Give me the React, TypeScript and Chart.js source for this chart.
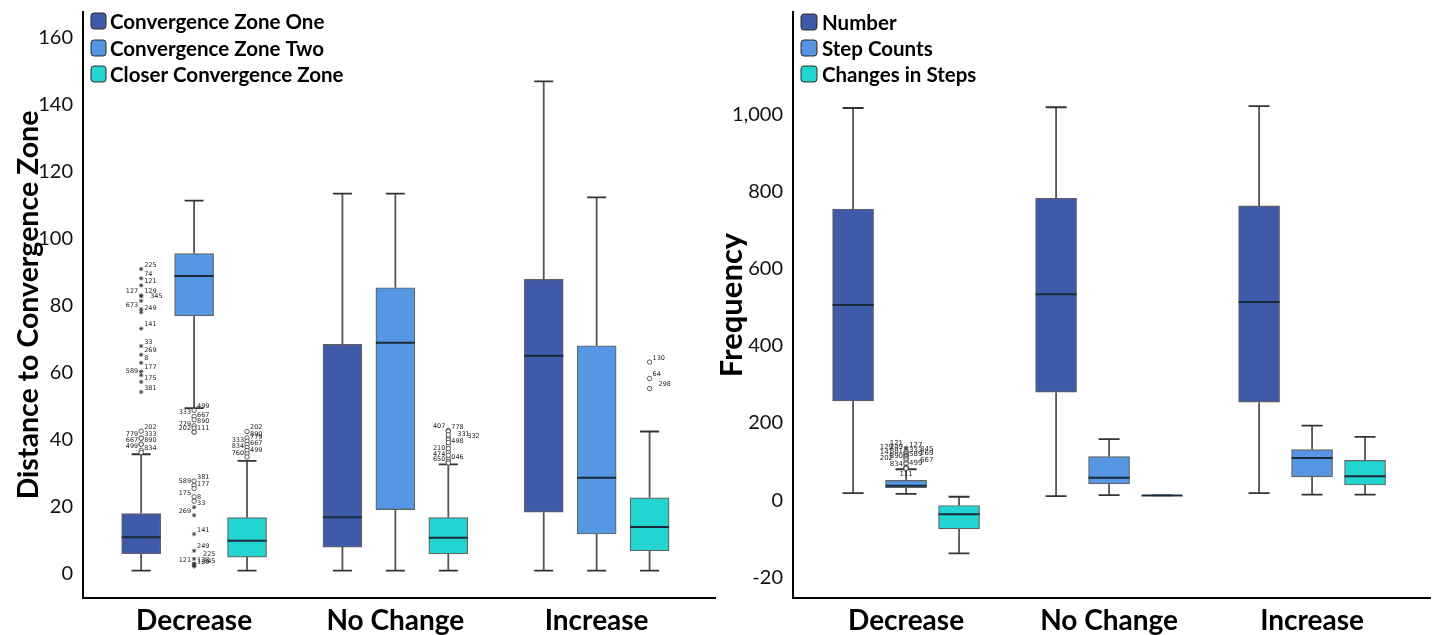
import React, { useEffect, useRef } from "react";
import { Chart, registerables } from "chart.js";

Chart.register(...registerables);

// ---------------- data ----------------
const categories = ["Decrease", "No Change", "Increase"];

const leftSeriesNames = ["Convergence Zone One", "Convergence Zone Two", "Closer Convergence Zone"];
const rightSeriesNames = ["Number", "Step Counts", "Changes in Steps"];
const seriesColors = ["#3F5AA9", "#5597E3", "#22D5D0"];

const leftTicks = [0, 20, 40, 60, 80, 100, 120, 140, 160];
const rightTicks = [-20, 0, 200, 400, 600, 800, 1000];

// box stats per category: [min, q1, median, q3, max]
const zoneOneBoxes = [
  [1.0, 6.0, 10.9, 18.0, 35.7],
  [1.0, 8.0, 16.9, 68.5, 113.5],
  [1.0, 18.4, 65.1, 87.9, 147.0],
];
const zoneTwoBoxes = [
  [49.5, 77.0, 88.9, 95.6, 111.4],
  [1.0, 19.2, 69.0, 85.4, 113.5],
  [1.0, 11.9, 28.7, 68.1, 112.4],
];
const closerBoxes = [
  [1.0, 5.0, 9.9, 16.8, 33.7],
  [1.0, 6.0, 10.8, 16.8, 32.7],
  [1.0, 6.9, 14.0, 22.7, 42.5],
];

// outliers per category: [value, case id, marker ('o' = outlier, '*' = extreme)]
const zoneOneOutliers = [
  [
    [42.6, "202", "o"], [40.5, "779", "o"], [40.5, "333", "o"], [38.7, "667", "o"], [38.7, "890", "o"], [36.9, "499", "o"], [36.2, "834", "o"],
    [91.0, "225", "*"], [88.2, "74", "*"], [86.1, "121", "*"], [83.0, "127", "*"], [83.0, "129", "*"], [81.5, "345", "*"], [79.0, "673", "*"],
    [78.1, "249", "*"], [73.2, "141", "*"], [68.0, "33", "*"], [65.4, "269", "*"], [63.0, "8", "*"], [60.4, "177", "*"], [59.3, "589", "*"],
    [57.3, "175", "*"], [54.3, "381", "*"],
  ],
  [],
  [],
];
const zoneTwoOutliers = [
  [
    [48.8, "499", "o"], [47.0, "333", "o"], [46.0, "667", "o"], [44.2, "890", "o"], [43.5, "779", "o"], [42.3, "202", "o"], [42.3, "111", "o"],
    [27.7, "381", "o"], [26.4, "589", "o"], [25.5, "177", "o"], [23.0, "175", "o"], [21.7, "8", "o"],
    [19.9, "33", "*"], [17.5, "269", "*"], [11.9, "141", "*"], [6.9, "249", "*"], [4.5, "225", "*"], [3.0, "121", "*"], [3.0, "127", "*"],
    [2.6, "345", "*"], [2.2, "129", "*"],
  ],
  [],
  [],
];
const closerOutliers = [
  [
    [42.5, "202", "o"], [40.6, "890", "o"], [39.6, "779", "o"], [38.6, "333", "o"], [37.7, "667", "o"], [36.8, "834", "o"], [35.8, "499", "o"], [34.9, "760", "o"],
  ],
  [
    [42.8, "407", "o"], [42.5, "778", "o"], [40.6, "331", "o"], [40.0, "332", "o"], [38.4, "498", "o"], [36.4, "210", "o"], [34.4, "474", "o"],
    [33.6, "046", "o"], [33.1, "650", "o"], [41.5, "", "o"], [39.2, "", "o"], [37.4, "", "o"], [35.4, "", "o"],
  ],
  [[63.2, "130", "o"], [58.3, "64", "o"], [55.3, "298", "o"]],
];

const numberBoxes = [
  [18, 257, 506, 755, 1017],
  [10, 280, 534, 783, 1019],
  [18, 254, 514, 763, 1022],
];
const stepBoxes = [
  [16, 32, 37, 51, 80],
  [13, 42, 58, 113, 158],
  [14, 60, 109, 131, 193],
];
const changeBoxes = [
  [-13.8, -7.5, -3.7, -1.4, 8.6],
  [12, 12, 12, 12, 12],
  [14, 39, 62, 103, 164],
];
const numberOutliers = [[], [], []];
const stepOutliers = [
  [
    [136, "121", "*"], [132, "127", "*"], [128, "249", "*"], [126, "129", "o"], [122, "345", "o"], [120, "333", "o"], [116, "381", "o"],
    [114, "141", "o"], [112, "269", "o"], [108, "589", "o"], [104, "890", "o"], [98, "202", "o"], [94, "667", "o"], [86, "499", "o"],
    [84, "834", "o"], [82, "111", "o"],
  ],
  [],
  [],
];
const changeOutliers = [[], [], []];

// label placement hints (layout only), one letter per outlier
const zoneOneLabelSides = ["rlrlrlrrrrlrRlrrrrrrlrr", "", ""];
const zoneTwoLabelSides = ["rlrrllrrlrlrrlrrRlrRr", "", ""];
const closerLabelSides = ["rrrlrlrl", "lrRXrllrl----", "rrR"];
const stepLabelSides = ["lrlLWrlLWrlLWrlc", "", ""];
const emptySides = ["", "", ""];

// ---------------- rendering ----------------
const FONT = "Lato, 'Open Sans', 'DejaVu Sans', sans-serif";
const sideOffsets: Record<string, number> = { l: -3, L: -13, r: 3, R: 9, W: 14, X: 19, c: 0 };

type Panel = {
  names: string[];
  boxes: number[][][];
  outliers: any[][][];
  sides: string[][];
  f: (v: number) => number;
  inv: (u: number) => number;
  yTicks: number[];
  yMin: number;
  yMax: number;
  xMin: number;
  xMax: number;
  groupOffset: number;
  barWidth: number;
  capWidth: number;
  yAxisWidth: number;
  padRight: number;
  title: string;
  titleSize: number;
  titlePad: number;
  legendX: number;
  legendSize: number;
  textX: number;
  legendRows: number[];
  legendFont: number;
  labelFont: number;
  yLabel: (v: number) => string;
};

const leftPanel: Panel = {
  names: leftSeriesNames,
  boxes: [zoneOneBoxes, zoneTwoBoxes, closerBoxes],
  outliers: [zoneOneOutliers, zoneTwoOutliers, closerOutliers],
  sides: [zoneOneLabelSides, zoneTwoLabelSides, closerLabelSides],
  f: (v) => v,
  inv: (u) => u,
  yTicks: leftTicks,
  yMin: -7.2,
  yMax: 167.7,
  xMin: -0.552,
  xMax: 2.589,
  groupOffset: 0.263,
  barWidth: 39,
  capWidth: 19,
  yAxisWidth: 83,
  padRight: 0,
  title: "Distance to Convergence Zone",
  titleSize: 28.5,
  titlePad: 15,
  legendX: 91,
  legendSize: 15,
  textX: 110,
  legendRows: [21, 48, 74],
  legendFont: 20.5,
  labelFont: 6.5,
  yLabel: (v) => String(Math.round(v)),
};

const rightF = (v: number) => (v >= 0 ? v / 200 : v / 20);
const rightInv = (u: number) => (u >= 0 ? u * 200 : u * 20);

const rightPanel: Panel = {
  names: rightSeriesNames,
  boxes: [numberBoxes, stepBoxes, changeBoxes],
  outliers: [numberOutliers, stepOutliers, changeOutliers],
  sides: [emptySides, stepLabelSides, emptySides],
  f: rightF,
  inv: rightInv,
  yTicks: rightTicks,
  yMin: -1.27,
  yMax: 6.33,
  xMin: -0.557,
  xMax: 2.581,
  groupOffset: 0.261,
  barWidth: 41,
  capWidth: 21,
  yAxisWidth: 73,
  padRight: 7,
  title: "Frequency",
  titleSize: 31,
  titlePad: -4,
  legendX: 81,
  legendSize: 16,
  textX: 102,
  legendRows: [22, 48, 74],
  legendFont: 20.5,
  labelFont: 7,
  yLabel: (v) => Math.round(v).toLocaleString("en-US"),
};

function makeChart(canvas: HTMLCanvasElement, p: Panel) {
  const datasets: any[] = [];
  p.boxes.forEach((boxes, k) => {
    const off = (k - 1) * p.groupOffset;
    datasets.push({
      type: "bar",
      label: p.names[k],
      data: boxes.map((b, i) => ({ x: i + off, y: [p.f(b[1]), p.f(b[3])] })),
      backgroundColor: seriesColors[k],
      borderColor: "rgba(70,70,70,0.85)",
      borderWidth: 1.2,
      borderSkipped: false,
      grouped: false,
      barPercentage: 1,
      categoryPercentage: 1,
      maxBarThickness: p.barWidth,
    });
  });
  p.outliers.forEach((cats, k) => {
    const off = (k - 1) * p.groupOffset;
    const pts: any[] = [];
    cats.forEach((list, i) =>
      list.forEach((o: any, j: number) =>
        pts.push({ x: i + off, y: p.f(o[0]), id: o[1], m: o[2], side: (p.sides[k][i] || "")[j] || "r" })
      )
    );
    datasets.push({
      type: "scatter",
      label: p.names[k] + " outliers",
      data: pts,
      pointStyle: (ctx: any) => (ctx.raw && ctx.raw.m === "*" ? "star" : "circle"),
      pointRadius: 2.2,
      pointBackgroundColor: "#ffffff",
      pointBorderColor: "#333333",
      pointBorderWidth: 0.8,
    });
  });

  const decor = {
    id: "boxDecor",
    beforeDatasetsDraw(chart: any) {
      const ctx = chart.ctx;
      const ys = chart.scales.y;
      ctx.save();
      p.boxes.forEach((boxes, k) => {
        const meta = chart.getDatasetMeta(k);
        boxes.forEach((b, i) => {
          const el = meta.data[i];
          if (!el) return;
          const x = el.x;
          const [mn, q1, , q3, mx] = b.map(p.f);
          ctx.strokeStyle = "#555555";
          ctx.lineWidth = 1.8;
          ctx.beginPath();
          ctx.moveTo(x, ys.getPixelForValue(q3));
          ctx.lineTo(x, ys.getPixelForValue(mx));
          ctx.moveTo(x, ys.getPixelForValue(q1));
          ctx.lineTo(x, ys.getPixelForValue(mn));
          ctx.stroke();
          ctx.strokeStyle = "#333333";
          ctx.lineWidth = 1.8;
          ctx.beginPath();
          [mx, mn].forEach((v) => {
            const y = ys.getPixelForValue(v);
            ctx.moveTo(x - p.capWidth / 2, y);
            ctx.lineTo(x + p.capWidth / 2, y);
          });
          ctx.stroke();
        });
      });
      ctx.restore();
    },
    afterDatasetsDraw(chart: any) {
      const ctx = chart.ctx;
      const ys = chart.scales.y;
      ctx.save();
      // medians
      p.boxes.forEach((boxes, k) => {
        const meta = chart.getDatasetMeta(k);
        boxes.forEach((b, i) => {
          const el = meta.data[i];
          if (!el) return;
          const y = ys.getPixelForValue(p.f(b[2]));
          ctx.strokeStyle = "#1b2a3a";
          ctx.lineWidth = 2;
          ctx.beginPath();
          ctx.moveTo(el.x - el.width / 2, y);
          ctx.lineTo(el.x + el.width / 2, y);
          ctx.stroke();
        });
      });
      // outlier labels
      ctx.font = `${p.labelFont}px 'DejaVu Sans', sans-serif`;
      ctx.fillStyle = "#222222";
      ctx.textBaseline = "middle";
      p.outliers.forEach((_, k) => {
        const di = p.boxes.length + k;
        const meta = chart.getDatasetMeta(di);
        const data = chart.data.datasets[di].data;
        data.forEach((d: any, j: number) => {
          const el = meta.data[j];
          if (!el || !d.id) return;
          const s = d.side;
          const off = sideOffsets[s] ?? 3;
          if (s === "c") {
            ctx.textAlign = "center";
            ctx.fillText(d.id, el.x, el.y + 6);
          } else {
            ctx.textAlign = off < 0 ? "right" : "left";
            ctx.fillText(d.id, el.x + off, el.y - 4);
          }
        });
      });
      ctx.restore();
    },
    afterDraw(chart: any) {
      const ctx = chart.ctx;
      ctx.save();
      p.names.forEach((name, k) => {
        const cy = p.legendRows[k];
        const s = p.legendSize;
        const x = p.legendX;
        const y = cy - 8;
        const h = 16;
        const r = 3;
        ctx.beginPath();
        ctx.moveTo(x + r, y);
        ctx.lineTo(x + s - r, y);
        ctx.quadraticCurveTo(x + s, y, x + s, y + r);
        ctx.lineTo(x + s, y + h - r);
        ctx.quadraticCurveTo(x + s, y + h, x + s - r, y + h);
        ctx.lineTo(x + r, y + h);
        ctx.quadraticCurveTo(x, y + h, x, y + h - r);
        ctx.lineTo(x, y + r);
        ctx.quadraticCurveTo(x, y, x + r, y);
        ctx.closePath();
        ctx.fillStyle = seriesColors[k];
        ctx.fill();
        ctx.strokeStyle = "#2a2a2a";
        ctx.lineWidth = 1;
        ctx.stroke();
        ctx.fillStyle = "#000000";
        ctx.font = `bold ${p.legendFont}px ${FONT}`;
        ctx.textAlign = "left";
        ctx.textBaseline = "middle";
        ctx.fillText(name, p.textX, cy + 1);
      });
      ctx.restore();
    },
  };

  return new Chart(canvas, {
    type: "bar",
    data: { datasets },
    plugins: [decor],
    options: {
      responsive: false,
      animation: false,
      devicePixelRatio: 1,
      layout: { padding: { top: 12, right: p.padRight, left: 0, bottom: 0 } },
      plugins: { legend: { display: false }, tooltip: { enabled: false } },
      scales: {
        x: {
          type: "linear",
          offset: false,
          min: p.xMin,
          max: p.xMax,
          afterBuildTicks: (s: any) => {
            s.ticks = categories.map((_, i) => ({ value: i }));
          },
          afterFit: (s: any) => {
            s.height = 37;
            s.paddingLeft = 0;
            s.paddingRight = 0;
          },
          ticks: {
            autoSkip: false,
            maxRotation: 0,
            padding: 6,
            color: "#000000",
            font: { family: FONT, size: 28, weight: "bold" },
            callback: (v: any) => categories[Math.round(Number(v))] ?? "",
          },
          grid: { display: false, drawTicks: false, offset: false },
          border: { display: true, color: "#000000", width: 2 },
        },
        y: {
          type: "linear",
          min: p.yMin,
          max: p.yMax,
          afterBuildTicks: (s: any) => {
            s.ticks = p.yTicks.map((v) => ({ value: p.f(v) }));
          },
          afterFit: (s: any) => {
            s.width = p.yAxisWidth;
            s.paddingTop = 0;
            s.paddingBottom = 0;
          },
          ticks: {
            autoSkip: false,
            padding: 10,
            color: "#111111",
            font: { family: FONT, size: 20 },
            callback: (v: any) => p.yLabel(p.inv(Number(v))),
          },
          grid: { display: false, drawTicks: false },
          border: { display: true, color: "#000000", width: 2 },
          title: {
            display: true,
            text: p.title,
            color: "#000000",
            font: { family: FONT, size: p.titleSize, weight: "bold", lineHeight: 1 },
            padding: { top: p.titlePad, bottom: 0 },
          },
        },
      },
    } as any,
  });
}

export default function App() {
  const leftRef = useRef<HTMLCanvasElement>(null);
  const rightRef = useRef<HTMLCanvasElement>(null);
  useEffect(() => {
    const a = makeChart(leftRef.current as HTMLCanvasElement, leftPanel);
    const b = makeChart(rightRef.current as HTMLCanvasElement, rightPanel);
    return () => {
      a.destroy();
      b.destroy();
    };
  }, []);
  return (
    <div style={{ position: "absolute", left: 0, top: 0, width: 1437, height: 635, background: "#ffffff" }}>
      <canvas
        ref={leftRef}
        width={720}
        height={635}
        style={{ position: "absolute", left: 0, top: 0, width: 720, height: 635 }}
      />
      <canvas
        ref={rightRef}
        width={717}
        height={635}
        style={{ position: "absolute", left: 720, top: 0, width: 717, height: 635 }}
      />
    </div>
  );
}
